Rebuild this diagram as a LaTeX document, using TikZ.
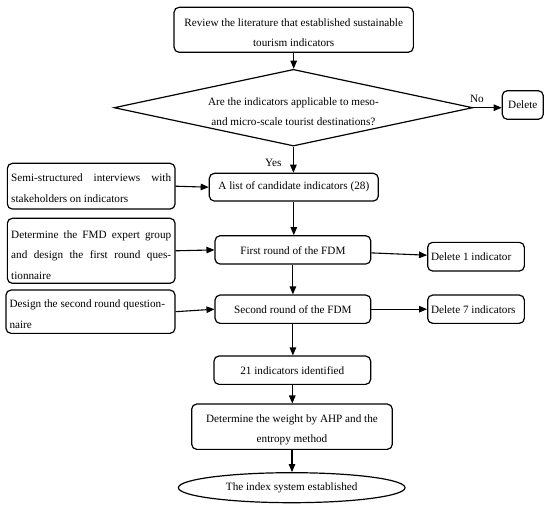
\documentclass[tikz,border=0pt]{standalone}
\usepackage{fontspec}
\setmainfont{Liberation Serif}
\usetikzlibrary{shapes.geometric,arrows.meta}
\newcommand{\uppad}[1]{\rule{0pt}{#1}}
\begin{document}
\begin{tikzpicture}[x=1pt,y=-1pt,
  txt/.style={font=\fontsize{11.2}{20.5}\selectfont},
  box/.style={txt,draw,line width=1.2pt,rounded corners=5pt,inner sep=0pt,align=center},
  arr/.style={line width=1.1pt,-{Triangle[length=8pt,width=6.5pt]}}]
\useasboundingbox (0,0) rectangle (550,511);
\node[box,minimum width=239.3pt,minimum height=45pt] (lit) at (293.7,29.8) {\uppad{14pt}Review the literature that established sustainable\\tourism indicators};
\node[draw,line width=1.2pt,diamond,minimum width=358.7pt,minimum height=76.7pt,inner sep=0pt] (dia) at (293.4,107.7) {};
\node[txt,align=center,inner sep=0pt] (diat) at (293.4,111.5) {Are the indicators applicable to meso-\\and micro-scale tourist destinations?};
\node[box,minimum width=41pt,minimum height=28.6pt] (del) at (522.8,105) {Delete};
\node[txt,inner sep=0pt] (no) at (477,99) {No};
\node[txt,inner sep=0pt] (yes) at (273.3,162.7) {Yes};
\node[box,minimum width=169pt,minimum height=27.7pt] (cand) at (293.8,187.2) {A list of candidate indicators (28)};
\node[box,minimum width=167.7pt,minimum height=45.7pt,align=left] (semi) at (91.2,186.2) {\uppad{12pt}\makebox[160pt][s]{Semi-structured interviews with}\\stakeholders on indicators};
\node[box,minimum width=167.7pt,minimum height=65pt,align=left] (fmd) at (91.2,250.8) {\uppad{16pt}\makebox[160pt][s]{Determine the FMD expert group}\\\makebox[160pt][s]{and design the first round ques-}\\tionnaire};
\node[box,minimum width=155.7pt,minimum height=28.3pt] (first) at (292.9,249.9) {\uppad{9pt}First round of the FDM};
\node[box,minimum width=96.7pt,minimum height=28.7pt,align=left] (del1) at (476,256.7) {\makebox[90pt][l]{Delete 1 indicator}};
\node[box,minimum width=169pt,minimum height=43.3pt,align=left] (des2) at (90.5,311.7) {\uppad{13pt}\makebox[162pt][l]{Design the second round question-}\\naire};
\node[box,minimum width=155.7pt,minimum height=28.3pt] (second) at (292.9,309.2) {Second round of the FDM};
\node[box,minimum width=96.7pt,minimum height=28.3pt,align=left] (del7) at (476,309.2) {\makebox[90pt][l]{Delete 7 indicators}};
\node[box,minimum width=156.7pt,minimum height=28.3pt] (t21) at (292.3,370.2) {21 indicators identified};
\node[box,minimum width=200.6pt,minimum height=45.3pt] (wt) at (292,426.7) {\uppad{14pt}Determine the weight by AHP and the\\entropy method};
\node[txt,draw,line width=1.2pt,ellipse,minimum width=226.7pt,minimum height=30pt,inner sep=0pt] (ell) at (291.7,487.7) {The index system established};
\draw[arr] (lit.south) -- (lit.south |- dia.north);
\draw[arr] (dia.east) -- (dia.east -| del.west);
\draw[arr] (dia.south) -- (dia.south |- cand.north);
\draw[arr] (semi.east) -- (cand.west);
\draw[arr] (cand.south) -- (cand.south |- first.north);
\draw[arr] (fmd.east) -- (first.west);
\draw[arr] ([yshift=-3pt]first.east) -- ([yshift=1.5pt]del1.west);
\draw[arr] (first.south) -- (first.south |- second.north);
\draw[arr] (des2.east) -- (second.west);
\draw[arr] (second.east) -- (del7.west);
\draw[arr] (second.south) -- (second.south |- t21.north);
\draw[arr] (t21.south) -- (t21.south |- wt.north);
\draw[arr] (wt.south) -- (wt.south |- ell.north);
\end{tikzpicture}
\end{document}
